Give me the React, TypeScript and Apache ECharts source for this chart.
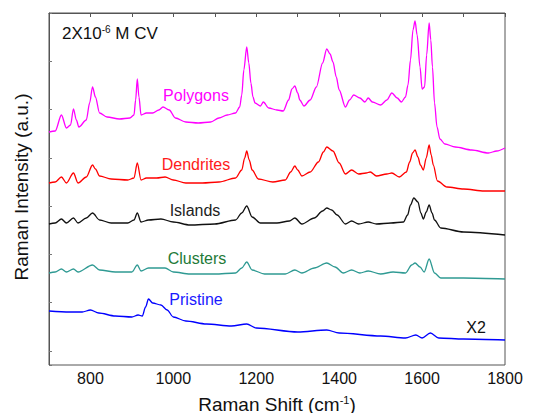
import React, { useEffect, useRef } from "react";
import * as echarts from "echarts";

// Raman shift (cm-1) vs intensity (a.u., spectra vertically offset)
const polygons: [number, number][] = [
  [700, 233], [715, 234], [730, 250], [742, 237], [752, 240], [759, 256], [766, 245], [772, 238], [790, 245], [798, 262],
  [805, 278], [812, 268], [822, 252], [840, 248], [870, 246], [895, 247], [905, 250], [909, 265], [913, 286], [917, 268],
  [922, 250], [935, 252], [950, 252], [965, 255], [975, 258], [990, 255], [1005, 247], [1030, 243], [1060, 242], [1090, 243],
  [1110, 247], [1130, 250], [1150, 252], [1160, 258], [1165, 270], [1170, 295], [1177, 318], [1182, 302], [1187, 282], [1192, 268],
  [1197, 262], [1210, 259], [1217, 263], [1230, 257], [1250, 255], [1265, 254], [1278, 265], [1286, 276], [1293, 279], [1300, 272],
  [1305, 265], [1315, 259], [1330, 265], [1345, 278], [1360, 302], [1370, 316], [1378, 311], [1385, 303], [1393, 288], [1400, 275],
  [1415, 258], [1425, 265], [1435, 270], [1450, 267], [1462, 263], [1470, 267], [1480, 263], [1500, 260], [1515, 265], [1527, 272],
  [1540, 267], [1550, 263], [1560, 268], [1566, 280], [1572, 305], [1578, 335], [1583, 344], [1588, 330], [1595, 298], [1600, 276],
  [1606, 278], [1611, 310], [1617, 342], [1621, 325], [1625, 298], [1630, 262], [1636, 238], [1643, 226], [1655, 221], [1680, 218],
  [1720, 215], [1760, 212], [1780, 214], [1800, 217],
];

const dendrites: [number, number][] = [
  [700, 182], [715, 183], [730, 188], [742, 182], [759, 192], [770, 182], [790, 188], [805, 200], [812, 196], [822, 189],
  [850, 186], [890, 185], [905, 187], [913, 202], [922, 185], [935, 187], [960, 187], [980, 188], [1000, 185], [1030, 182],
  [1070, 182], [1110, 183], [1150, 187], [1165, 195], [1172, 207], [1177, 214], [1183, 205], [1190, 195], [1205, 186], [1240, 183],
  [1270, 185], [1283, 193], [1293, 199], [1300, 195], [1310, 189], [1330, 193], [1350, 203], [1362, 213], [1370, 218], [1385, 214],
  [1400, 202], [1415, 191], [1430, 195], [1447, 191], [1465, 192], [1475, 193], [1490, 189], [1515, 191], [1527, 192], [1545, 188],
  [1562, 193], [1570, 203], [1577, 212], [1583, 215], [1590, 208], [1596, 200], [1603, 195], [1610, 207], [1617, 220], [1622, 210],
  [1627, 200], [1637, 184], [1660, 178], [1700, 176], [1750, 174], [1800, 174],
];

const islands: [number, number][] = [
  [700, 141], [715, 142], [730, 146], [742, 142], [759, 147], [770, 142], [790, 147], [805, 152], [822, 145], [850, 142],
  [890, 142], [905, 145], [913, 152], [922, 143], [940, 145], [970, 146], [1000, 143], [1040, 140], [1100, 141], [1150, 145],
  [1165, 152], [1177, 159], [1190, 148], [1210, 142], [1250, 142], [1280, 144], [1293, 147], [1310, 141], [1340, 147], [1360, 154],
  [1370, 157], [1382, 155], [1395, 150], [1415, 141], [1430, 144], [1447, 141], [1470, 143], [1490, 141], [1525, 142], [1555, 143],
  [1565, 150], [1572, 160], [1580, 167], [1590, 163], [1597, 152], [1603, 146], [1610, 153], [1617, 160], [1624, 152], [1630, 145],
  [1645, 137], [1700, 133], [1800, 130],
];

const clusters: [number, number][] = [
  [700, 92], [715, 93], [730, 96], [742, 93], [759, 96], [770, 93], [805, 100], [822, 95], [860, 93], [900, 93],
  [913, 100], [922, 94], [940, 97], [980, 97], [1000, 93], [1040, 91], [1100, 91], [1150, 92], [1165, 97], [1177, 103],
  [1190, 95], [1220, 91], [1270, 91], [1293, 95], [1310, 92], [1340, 97], [1370, 102], [1390, 98], [1410, 92], [1430, 95],
  [1450, 92], [1470, 94], [1500, 91], [1530, 93], [1560, 92], [1575, 100], [1583, 102], [1595, 98], [1605, 93], [1617, 106],
  [1630, 92], [1645, 87], [1700, 87], [1800, 86],
];

const pristine: [number, number][] = [
  [700, 54], [750, 53], [780, 53], [800, 55], [820, 52], [860, 49], [900, 48], [915, 50], [925, 49], [933, 58],
  [940, 66], [950, 62], [970, 60], [985, 55], [1000, 48], [1030, 44], [1080, 41], [1140, 39], [1177, 41], [1200, 37],
  [1300, 33], [1370, 35], [1400, 32], [1500, 29], [1560, 27], [1585, 30], [1600, 27], [1620, 32], [1640, 27], [1700, 26],
  [1800, 25],
];

const seriesNames = ["Polygons", "Dendrites", "Islands", "Clusters", "Pristine"];
const seriesData = [polygons, dendrites, islands, clusters, pristine];
const lineColors = ["#ff00ff", "#ff0000", "#111111", "#2f9a93", "#0000ff"];
const labelColors = ["#ff00ff", "#ff1a1a", "#222222", "#237a38", "#1a1aff"];
const labelPos: [number, number][] = [[196, 95], [196, 164], [195, 210], [197, 258], [196, 299]];

const FONT = "'Liberation Sans', Arial, sans-serif";

export default function App() {
  const ref = useRef<HTMLDivElement>(null);
  useEffect(() => {
    if (!ref.current) return;
    const chart = echarts.init(ref.current, null, { renderer: "svg" });
    chart.setOption({
      animation: false,
      backgroundColor: "#ffffff",
      grid: { left: 49, right: 40, top: 13, bottom: 48, show: true, borderColor: "#555", borderWidth: 1 },
      xAxis: {
        type: "value",
        min: 700,
        max: 1800,
        interval: 100,
        axisLine: { lineStyle: { color: "#555", width: 1 } },
        axisTick: { show: true, inside: false, length: 4, lineStyle: { color: "#555" } },
        splitLine: { show: false },
        axisLabel: {
          color: "#111",
          fontFamily: FONT,
          fontSize: 16,
          margin: 5,
          formatter: (v: number) => (v % 200 === 0 ? String(v) : ""),
        },
      },
      yAxis: [
        {
          type: "value",
          inverse: true,
          min: 0,
          max: 7.29,
          interval: 1,
          axisLine: { show: true, lineStyle: { color: "#555", width: 1 } },
          axisTick: { show: true, inside: true, length: 3, lineStyle: { color: "#777" } },
          axisLabel: { show: false },
          splitLine: { show: false },
        },
        {
          type: "value",
          min: 0,
          max: 352,
          show: false,
        },
      ],
      series: seriesData.map((d, i) => ({
        name: seriesNames[i],
        type: "line",
        yAxisIndex: 1,
        data: d,
        showSymbol: false,
        symbol: "none",
        smooth: 0.3,
        smoothMonotone: "x",
        lineStyle: { color: lineColors[i], width: 1.3 },
        z: 10 - i,
      })),
      graphic: [
        {
          type: "text",
          x: 62,
          y: 33,
          style: {
            text: "2X10{sup|-6} M CV",
            font: `17px ${FONT}`,
            fill: "#111",
            textVerticalAlign: "middle",
            rich: {
              sup: { fontSize: 10, fontFamily: FONT, fill: "#111", verticalAlign: "top" },
            },
          },
        },
        ...seriesNames.map((n, i) => ({
          type: "text",
          x: labelPos[i][0],
          y: labelPos[i][1],
          style: {
            text: n,
            font: `16px ${FONT}`,
            fill: labelColors[i],
            textAlign: "center",
            textVerticalAlign: "middle",
          },
        })),
        {
          type: "text",
          x: 476,
          y: 327,
          style: { text: "X2", font: `16px ${FONT}`, fill: "#111", textAlign: "center", textVerticalAlign: "middle" },
        },
        {
          type: "text",
          x: 277,
          y: 404,
          style: {
            text: "Raman Shift (cm{sup|-1})",
            font: `19px ${FONT}`,
            fill: "#111",
            textAlign: "center",
            textVerticalAlign: "middle",
            rich: {
              sup: { fontSize: 11, fontFamily: FONT, fill: "#111", verticalAlign: "top" },
            },
          },
        },
        {
          type: "text",
          x: 21,
          y: 187,
          rotation: Math.PI / 2,
          style: {
            text: "Raman Intensity (a.u.)",
            font: `19px ${FONT}`,
            fill: "#111",
            textAlign: "center",
            textVerticalAlign: "middle",
          },
        },
      ],
    });
    return () => chart.dispose();
  }, []);
  return <div ref={ref} style={{ width: 545, height: 413, position: "absolute", left: 0, top: 0 }} />;
}
